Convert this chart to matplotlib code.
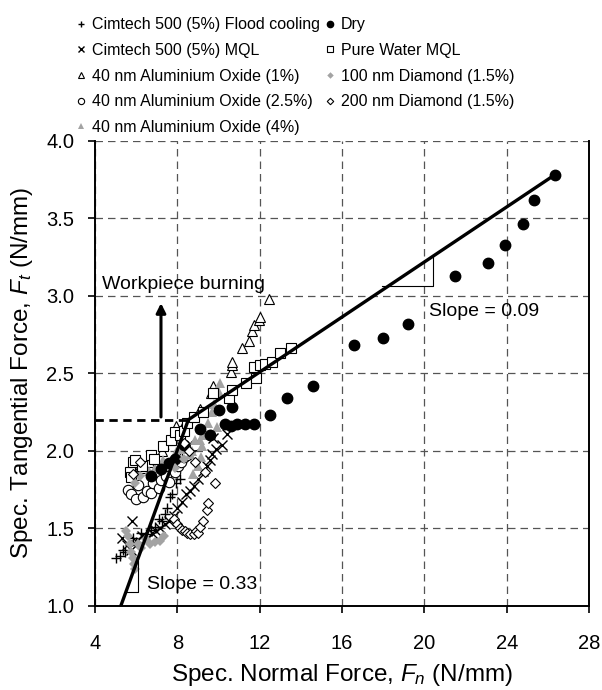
import matplotlib
matplotlib.use('Agg')
import matplotlib.pyplot as plt

plt.rcParams['font.family'] = ['Liberation Sans', 'DejaVu Sans']
plt.rcParams['mathtext.fontset'] = 'custom'
plt.rcParams['mathtext.rm'] = 'Liberation Sans'
plt.rcParams['mathtext.it'] = 'Liberation Sans:italic'

# data (specific normal force, specific tangential force)
flood_x = [5.0, 5.2, 5.35, 5.45, 5.7, 5.85, 6.0, 6.25, 6.45, 6.7, 6.9, 7.1, 7.25, 7.4, 7.5, 7.65, 7.75, 7.95, 8.1]
flood_y = [1.31, 1.32, 1.36, 1.35, 1.39, 1.44, 1.41, 1.47, 1.46, 1.49, 1.51, 1.56, 1.55, 1.59, 1.63, 1.70, 1.72, 1.79, 1.82]

mql_x = [5.3, 5.55, 5.75, 6.0, 6.3, 6.5, 6.75, 6.95, 7.15, 7.4, 7.6, 7.85, 8.0, 8.2, 8.4, 8.6,
         8.8, 9.0, 9.25, 9.45, 9.6, 9.7, 9.75, 9.85, 10.15, 10.4, 5.78]
mql_y = [1.44, 1.39, 1.36, 1.42, 1.45, 1.43, 1.47, 1.48, 1.50, 1.53, 1.55, 1.58, 1.63, 1.67, 1.72, 1.74,
         1.77, 1.82, 1.87, 1.90, 1.94, 1.98, 2.08, 2.01, 2.04, 2.11, 1.55]

al1_x = [5.8, 6.3, 6.6, 7.25, 7.65, 7.95, 8.3, 9.1, 9.65, 9.75, 10.6, 10.65, 10.65, 11.15, 11.5, 11.6, 11.7, 11.95, 12.0, 12.45]
al1_y = [1.90, 1.89, 1.93, 2.00, 2.07, 2.16, 2.17, 2.27, 2.37, 2.42, 2.51, 2.55, 2.57, 2.66, 2.71, 2.77, 2.81, 2.84, 2.86, 2.98]

al25_x = [5.6, 5.75, 6.0, 6.1, 6.35, 6.5, 6.7, 6.8, 7.1, 7.2, 7.45, 7.6, 7.9, 8.05, 8.15, 8.3, 8.45, 8.6, 8.85]
al25_y = [1.75, 1.72, 1.69, 1.78, 1.70, 1.74, 1.73, 1.79, 1.76, 1.81, 1.84, 1.80, 1.86, 1.90, 1.93, 1.96, 1.97, 2.01, 2.04]

al4_x = [6.6, 6.9, 7.3, 7.4, 7.45, 7.75, 7.95, 8.2, 8.45, 8.6, 8.7, 8.85, 9.1, 9.2, 9.25, 9.5, 9.65,
         9.7, 9.8, 9.9, 10.0, 10.05, 9.0, 8.75, 9.15]
al4_y = [1.87, 1.89, 1.94, 2.04, 1.92, 1.92, 1.99, 2.01, 2.04, 1.98, 2.00, 2.07, 2.07, 2.03, 2.10, 2.18, 2.11,
         2.25, 2.30, 2.15, 2.38, 2.44, 1.90, 1.85, 1.96]

dry_x = [6.7, 7.2, 7.6, 7.9, 8.3, 9.1, 9.6, 10.0, 10.3, 10.6, 10.65, 10.9, 11.3, 11.7, 12.5,
         13.3, 14.6, 16.6, 18.0, 19.2, 21.5, 23.1, 23.9, 24.8, 25.3, 26.35]
dry_y = [1.84, 1.88, 1.92, 1.95, 2.04, 2.14, 2.10, 2.26, 2.17, 2.16, 2.28, 2.17, 2.17, 2.17, 2.23,
         2.34, 2.42, 2.68, 2.73, 2.82, 3.13, 3.21, 3.33, 3.46, 3.62, 3.78]

water_x = [5.7, 5.75, 5.85, 5.95, 6.3, 6.7, 6.85, 7.3, 7.7, 7.9, 8.1, 8.3, 8.45, 8.8, 9.25, 9.75,
           10.5, 10.65, 11.35, 11.7, 11.8, 12.0, 12.25, 12.6, 13.0, 13.5]
water_y = [1.86, 1.83, 1.93, 1.94, 1.90, 1.97, 1.95, 2.03, 2.07, 2.12, 2.10, 2.13, 2.18, 2.22, 2.25, 2.37,
           2.34, 2.39, 2.44, 2.54, 2.47, 2.55, 2.56, 2.57, 2.63, 2.66]

d100_x = [5.5, 5.6, 5.7, 5.75, 5.85, 5.9, 5.95, 6.1, 6.25, 6.45, 6.65, 6.9, 7.15, 7.35, 5.95, 6.2, 7.9, 8.3]
d100_y = [1.48, 1.45, 1.40, 1.35, 1.31, 1.27, 1.24, 1.40, 1.37, 1.43, 1.40, 1.41, 1.42, 1.45, 1.79, 1.84, 1.89, 1.95]

d200_x = [5.85, 6.2, 7.85, 7.97, 8.1, 8.2, 8.35, 8.45, 8.6, 8.78, 8.9, 9.02, 9.1, 9.26, 9.43, 9.5,
          9.83, 9.35, 8.86, 8.55, 8.3]
d200_y = [1.85, 1.93, 1.56, 1.53, 1.50, 1.49, 1.48, 1.47, 1.46, 1.46, 1.48, 1.47, 1.51, 1.55, 1.62, 1.66,
          1.79, 1.86, 1.93, 2.00, 2.05]

# fitted trend lines and annotation guides
trend_x = [5.25, 8.53, 26.45]
trend_y = [1.0, 2.2, 3.79]
tri1_x = [5.55, 6.1, 6.1]
tri1_y = [1.09, 1.09, 1.29]
tri2_x = [17.93, 20.4, 20.4]
tri2_y = [3.065, 3.065, 3.25]

fig = plt.figure(figsize=(6.02, 6.90), dpi=100)
ax = fig.add_axes([0.158, 0.122, 0.8206, 0.6742])

gray = '#a3a3a3'
ms = 7.5
ax.plot(flood_x, flood_y, '+', color='black', ms=ms, mew=1.0, label='Cimtech 500 (5%) Flood cooling')
ax.plot(mql_x, mql_y, 'x', color='black', ms=ms, mew=1.0, label='Cimtech 500 (5%) MQL')
ax.plot(al1_x, al1_y, '^', mfc='white', mec='black', ms=ms, mew=0.8, label='40 nm Aluminium Oxide (1%)')
ax.plot(al25_x, al25_y, 'o', mfc='white', mec='black', ms=ms, mew=0.8, label='40 nm Aluminium Oxide (2.5%)')
ax.plot(al4_x, al4_y, '^', color=gray, ms=ms, mew=0, label='40 nm Aluminium Oxide (4%)')
ax.plot(dry_x, dry_y, 'o', color='black', ms=7.5, label='Dry')
ax.plot(water_x, water_y, 's', mfc='white', mec='black', ms=6.5, mew=0.8, label='Pure Water MQL')
ax.plot(d100_x, d100_y, 'D', color=gray, ms=5.5, mew=0, label='100 nm Diamond (1.5%)')
ax.plot(d200_x, d200_y, 'D', mfc='white', mec='black', ms=5.5, mew=0.8, label='200 nm Diamond (1.5%)')

ax.plot(trend_x, trend_y, '-', color='black', lw=2.4, zorder=5)
ax.plot(tri1_x, tri1_y, '-', color='black', lw=0.8)
ax.plot(tri2_x, tri2_y, '-', color='black', lw=0.8)

# workpiece burning threshold
ax.plot([4, 8.5], [2.2, 2.2], color='black', lw=2, ls=(0, (3, 2)))
ax.annotate('', xy=(7.2, 2.97), xytext=(7.2, 2.2),
            arrowprops=dict(arrowstyle='-|>', color='black', lw=2.2, mutation_scale=14))
ax.text(4.35, 3.07, 'Workpiece burning', fontsize=14, va='center')
ax.text(6.5, 1.14, 'Slope = 0.33', fontsize=14, va='center')
ax.text(20.2, 2.9, 'Slope = 0.09', fontsize=14, va='center')

ax.set_xlim(4, 28)
ax.set_ylim(1.0, 4.0)
ax.set_xticks([4, 8, 12, 16, 20, 24, 28])
ax.set_yticks([1.0, 1.5, 2.0, 2.5, 3.0, 3.5, 4.0])
ax.set_yticklabels(['1.0', '1.5', '2.0', '2.5', '3.0', '3.5', '4.0'])
ax.tick_params(axis='x', direction='out', length=5, width=1.2, labelsize=14.5, pad=15)
ax.tick_params(axis='y', direction='out', length=5, width=1.2, labelsize=14.5, pad=10)
ax.grid(True, linestyle=(0, (6, 4)), color='#555555', lw=0.9)
ax.set_axisbelow(True)
for side in ['left', 'bottom', 'right']:
    ax.spines[side].set_linewidth(1.4)
ax.spines['top'].set_visible(False)

ax.set_xlabel('Spec. Normal Force, $F_n$ (N/mm)', fontsize=17.5, labelpad=7)
ax.set_ylabel('Spec. Tangential Force, $F_t$ (N/mm)', fontsize=17.5, labelpad=8)

handles, labels = ax.get_legend_handles_labels()
fig.legend(handles, labels, ncol=2, loc='upper left', bbox_to_anchor=(0.125, 0.975),
           frameon=False, fontsize=11.5, markerscale=0.6, handlelength=0.7, handletextpad=0.35,
           columnspacing=0.25, labelspacing=0.67, borderpad=0, borderaxespad=0)

fig.savefig('out.png', dpi=100)
